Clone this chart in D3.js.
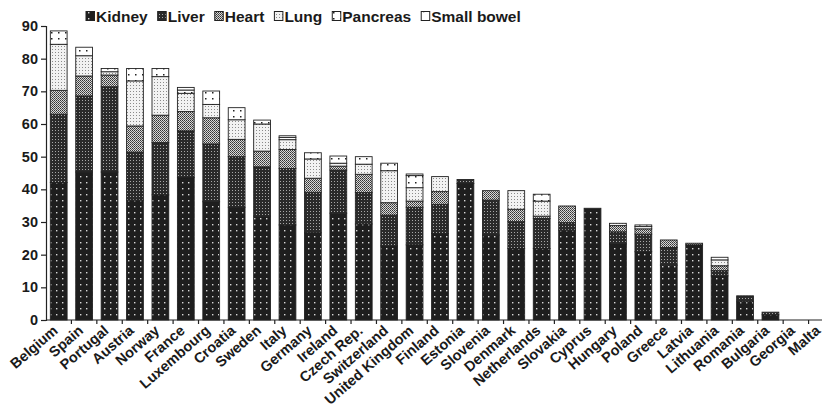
<!DOCTYPE html>
<html><head><meta charset="utf-8">
<script src="https://cdn.jsdelivr.net/npm/d3@7"></script>
<style>body{margin:0;background:#fff}svg{display:block}text{font-family:"Liberation Sans",Arial,sans-serif;font-weight:bold;fill:#1a1a1a}</style>
</head><body><svg id="c" width="822" height="417"></svg>
<script>
const countries = ["Belgium","Spain","Portugal","Austria","Norway","France","Luxembourg","Croatia","Sweden","Italy","Germany","Ireland","Czech Rep.","Switzerland","United Kingdom","Finland","Estonia","Slovenia","Denmark","Netherlands","Slovakia","Cyprus","Hungary","Poland","Greece","Latvia","Lithuania","Romania","Bulgaria","Georgia","Malta"];
const kidney     = [42.1,45.3,45.3,36.7,38.3,43.6,36.2,34.5,31.8,29.1,26.7,32.7,29.4,22.7,23.0,26.5,41.8,26.0,21.9,21.9,27.5,34.2,23.3,20.9,16.8,23.0,13.5,5.6,1.6,0,0];
const liver      = [20.9,23.3,26.1,14.7,16.0,14.3,17.7,15.5,15.1,17.3,12.4,13.2,9.6,9.4,11.5,8.9,1.2,10.7,8.2,9.2,2.3,0,3.7,5.4,5.4,0,1.6,1.8,0.8,0,0];
const heart      = [7.3,6.1,3.6,8.0,8.4,5.9,8.0,5.3,4.8,5.8,4.3,1.2,5.6,3.8,1.9,3.9,0,2.9,3.8,0.7,5.1,0,1.9,1.6,2.3,0.5,1.5,0,0,0,0];
const lung       = [14.1,6.2,1.0,13.8,11.8,5.6,4.1,6.0,8.3,3.0,5.9,0.9,3.1,9.8,4.1,4.6,0,0,5.7,4.6,0,0,0.7,0.7,0,0,1.8,0,0,0,0];
const pancreas   = [4.1,2.6,1.0,3.8,2.5,1.0,4.1,3.7,1.2,0.7,1.9,2.2,2.3,2.3,3.7,0,0,0,0,2.1,0,0,0,0.5,0,0,0.8,0,0,0,0];
const smallBowel = [0,0,0,0,0,0.8,0,0,0,0.5,0,0,0,0,0.5,0,0,0,0,0,0,0,0,0,0,0,0,0,0,0,0];
const seriesNames = ["Kidney","Liver","Heart","Lung","Pancreas","Small bowel"];
const yTicks = [0,10,20,30,40,50,60,70,80,90];

const seriesValues = [kidney, liver, heart, lung, pancreas, smallBowel];
const keys = ["k","li","h","lu","p","sb"];
const table = countries.map((c,i)=>{const o={country:c}; keys.forEach((k,j)=>o[k]=seriesValues[j][i]); return o;});

const svg = d3.select("#c");
const defs = svg.append("defs");
function pat(id,w,h,bg,dots){
  const p = defs.append("pattern").attr("id",id).attr("patternUnits","userSpaceOnUse").attr("width",w).attr("height",h);
  p.append("rect").attr("width",w).attr("height",h).attr("fill",bg);
  dots.forEach(d=>p.append("rect").attr("x",d[0]).attr("y",d[1]).attr("width",d[2]).attr("height",d[2]).attr("fill",d[3]));
}
pat("pk",6,6,"#1e1e1e",[[2,2,1.4,"#d8d8d8"]]);
pat("pli",3,3,"#2a2a2a",[[1,1,1,"#a8a8a8"]]);
pat("ph",2,2,"#d8d8d8",[[0,0,1,"#333"],[1,1,1,"#555"]]);
pat("plu",3,3,"#f2f2f2",[[1,1,1,"#8a8a8a"]]);
pat("pp",7,6,"#ffffff",[[2,2,1.5,"#222"]]);
pat("psb",9,9,"#ffffff",[[4,4,1.3,"#444"]]);
const fills = ["url(#pk)","url(#pli)","url(#ph)","url(#plu)","url(#pp)","url(#psb)"];

const x = d3.scaleBand().domain(countries).range([46,834]).paddingInner(0.34).paddingOuter(0.17);
const y = d3.scaleLinear().domain([0,90]).range([320,26]);

const stacked = d3.stack().keys(keys)(table);
const g = svg.append("g");
stacked.forEach((s,j)=>{
  g.append("g").selectAll("rect").data(s.filter(d=>d[1]-d[0]>0)).join("rect")
   .attr("x",d=>x(d.data.country)).attr("width",x.bandwidth())
   .attr("y",d=>y(d[1])).attr("height",d=>y(d[0])-y(d[1]))
   .attr("fill",fills[j]).attr("stroke","#222").attr("stroke-width",0.9);
});

// Y axis
const ya = svg.append("g").attr("transform","translate(46,0)")
  .call(d3.axisLeft(y).tickValues(yTicks).tickSize(5).tickPadding(3));
ya.select(".domain").attr("stroke","#222").attr("stroke-width",1.2);
ya.selectAll(".tick line").attr("stroke","#222").attr("stroke-width",1.2);
ya.selectAll("text").style("font-size","14.5px").attr("fill","#1a1a1a").style("font-family","'Liberation Sans',Arial,sans-serif").style("font-weight","bold");

// X axis
const xa = svg.append("g").attr("transform","translate(0,320)");
xa.append("line").attr("x1",46).attr("x2",834).attr("stroke","#222").attr("stroke-width",1.2);
const step = x.step();
xa.selectAll("line.t").data(countries.slice(0,-1)).join("line").attr("class","t")
  .attr("x1",d=>x(d)+x.bandwidth()+(step-x.bandwidth())/2).attr("x2",d=>x(d)+x.bandwidth()+(step-x.bandwidth())/2)
  .attr("y1",0).attr("y2",4).attr("stroke","#222").attr("stroke-width",1.2);
xa.selectAll("text").data(countries).join("text")
  .attr("transform",d=>`translate(${x(d)+x.bandwidth()/2},12) rotate(-41)`)
  .attr("text-anchor","end").style("font-size","14.5px").text(d=>d);

// Legend
const lg = svg.append("g").attr("transform","translate(86,16)");
let lx = 0;
seriesNames.forEach((n,j)=>{
  lg.append("rect").attr("x",lx).attr("y",-4.5).attr("width",8.5).attr("height",9).attr("fill",fills[j]).attr("stroke","#222").attr("stroke-width",1);
  const t = lg.append("text").attr("x",lx+10).attr("y",5.5).style("font-size","15.5px").text(n);
  lx += 10 + t.node().getComputedTextLength() + 10;
});
</script></body></html>
